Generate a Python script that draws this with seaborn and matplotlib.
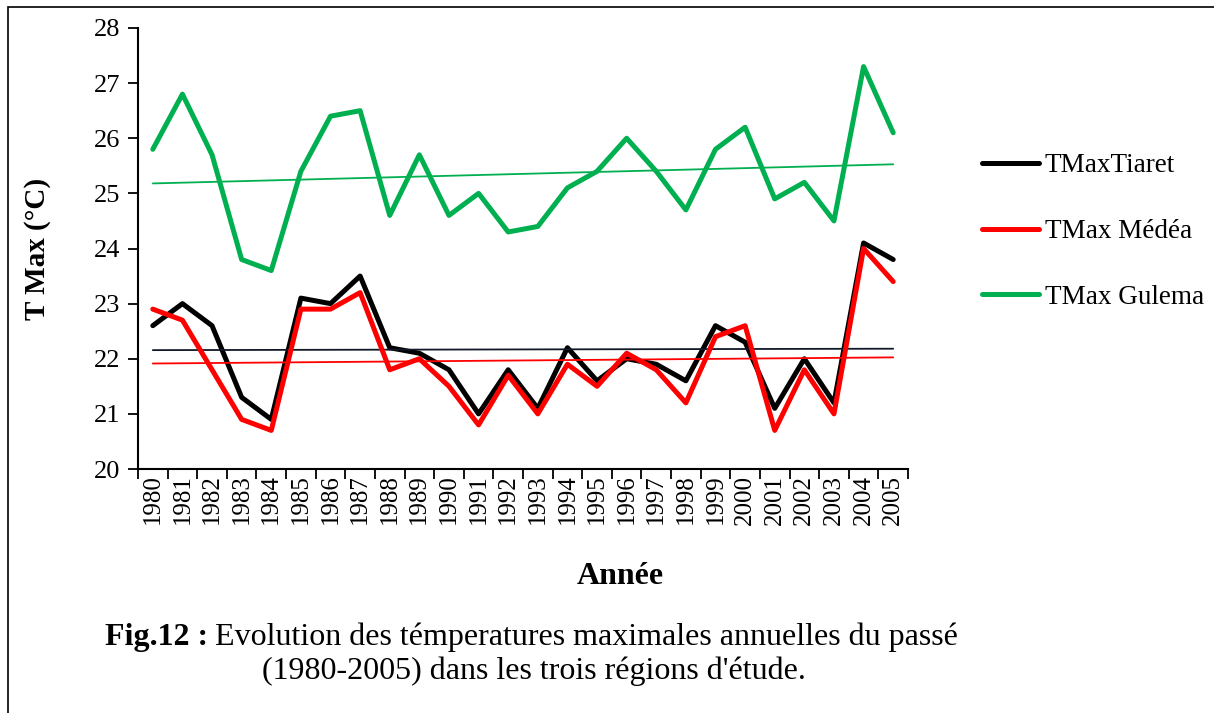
import matplotlib
matplotlib.use('Agg')
import matplotlib.pyplot as plt
import numpy as np
import pandas as pd
import seaborn as sns
from matplotlib.patches import Rectangle

sns.set_theme(style='white')
plt.rcParams['font.family'] = ['Liberation Serif', 'DejaVu Serif']
plt.rcParams['text.color'] = 'black'
plt.rcParams['axes.labelcolor'] = 'black'
plt.rcParams['xtick.color'] = 'black'
plt.rcParams['ytick.color'] = 'black'

years = list(range(1980, 2006))
tmax_tiaret = [22.6, 23.0, 22.6, 21.3, 20.9, 23.1, 23.0, 23.5, 22.2, 22.1, 21.8, 21.0, 21.8,
               21.1, 22.2, 21.6, 22.0, 21.9, 21.6, 22.6, 22.3, 21.1, 22.0, 21.2, 24.1, 23.8]
tmax_medea = [22.9, 22.7, 21.8, 20.9, 20.7, 22.9, 22.9, 23.2, 21.8, 22.0, 21.5, 20.8, 21.7,
              21.0, 21.9, 21.5, 22.1, 21.8, 21.2, 22.4, 22.6, 20.7, 21.8, 21.0, 24.0, 23.4]
tmax_gulema = [25.8, 26.8, 25.7, 23.8, 23.6, 25.4, 26.4, 26.5, 24.6, 25.7, 24.6, 25.0, 24.3,
               24.4, 25.1, 25.4, 26.0, 25.4, 24.7, 25.8, 26.2, 24.9, 25.2, 24.5, 27.3, 26.1]
series_names = ['TMaxTiaret', 'TMax Médéa', 'TMax Gulema']
series_colors = ['#000000', '#FF0000', '#00B050']
trend_colors = ['#111827', '#FF0000', '#00B050']

df = pd.DataFrame({'pos': np.arange(len(years)), 'year': years,
                   'TMaxTiaret': tmax_tiaret, 'TMax Médéa': tmax_medea, 'TMax Gulema': tmax_gulema})

W, H = 1214, 713
fig = plt.figure(figsize=(W / 100, H / 100), dpi=100)
ax = fig.add_axes([138 / W, 1 - 469 / H, (908 - 138) / W, (469 - 28) / H])

for name, color, tcolor in zip(series_names, series_colors, trend_colors):
    sns.lineplot(data=df, x='pos', y=name, color=color, linewidth=3.6, ax=ax, label=name)
    slope, intercept = np.polyfit(df['pos'], df[name], 1)
    ax.plot(df['pos'], slope * df['pos'] + intercept, color=tcolor, linewidth=1.3)

ax.set_xlim(-0.5, len(years) - 0.5)
ax.set_ylim(20, 28)
ax.set_yticks(range(20, 29))
ax.set_xticks(np.arange(-0.5, len(years), 1.0))
ax.set_xticklabels([])
ax.set_xticks(df['pos'], minor=True)
ax.set_xticklabels([str(y) for y in years], minor=True, rotation=90, fontsize=18)
ax.tick_params(axis='x', which='major', direction='out', length=7, width=1.3, color='black')
ax.tick_params(axis='x', which='minor', length=0, pad=4)
ax.tick_params(axis='y', direction='out', length=7, width=1.3, color='black', labelsize=19, pad=6)
ax.yaxis.set_ticks_position('left')
ax.xaxis.set_ticks_position('bottom')

for side in ['top', 'right']:
    ax.spines[side].set_visible(False)
for side in ['left', 'bottom']:
    ax.spines[side].set_color('black')
    ax.spines[side].set_linewidth(1.5)

ax.set_ylabel('T Max (°C)', fontsize=21, fontweight='bold')
ax.yaxis.set_label_coords(-(138 - 51) / (908 - 138), 0.5)
ax.set_xlabel('')
fig.text(620 / W, 1 - 577 / H, 'Année', fontsize=23, fontweight='bold', ha='center', va='center')

handles, labels = ax.get_legend_handles_labels()
ax.legend(handles, labels, loc='upper left', bbox_to_anchor=(958 / W, 1 - 129 / H),
          bbox_transform=fig.transFigure, frameon=False, fontsize=19.5,
          handlelength=2.1, handletextpad=0.2, labelspacing=1.5)

fig.canvas.draw()
renderer = fig.canvas.get_renderer()
t1 = fig.text(105 / W, 1 - 637 / H, 'Fig.12 :', fontsize=23, fontweight='bold', ha='left', va='center')
bb = t1.get_window_extent(renderer=renderer)
fig.text((bb.x1 + 7) / W, 1 - 637 / H, 'Evolution des témperatures maximales annuelles du passé',
         fontsize=23, ha='left', va='center')
fig.text(534 / W, 1 - 671 / H, "(1980-2005) dans les trois régions d'étude.",
         fontsize=23, ha='center', va='center')

fig.patches.append(Rectangle((8 / W, -0.1), 1.2, 1 - 7 / H + 0.1, transform=fig.transFigure,
                             fill=False, edgecolor='black', linewidth=1.2))

fig.savefig('out.png', dpi=100)
